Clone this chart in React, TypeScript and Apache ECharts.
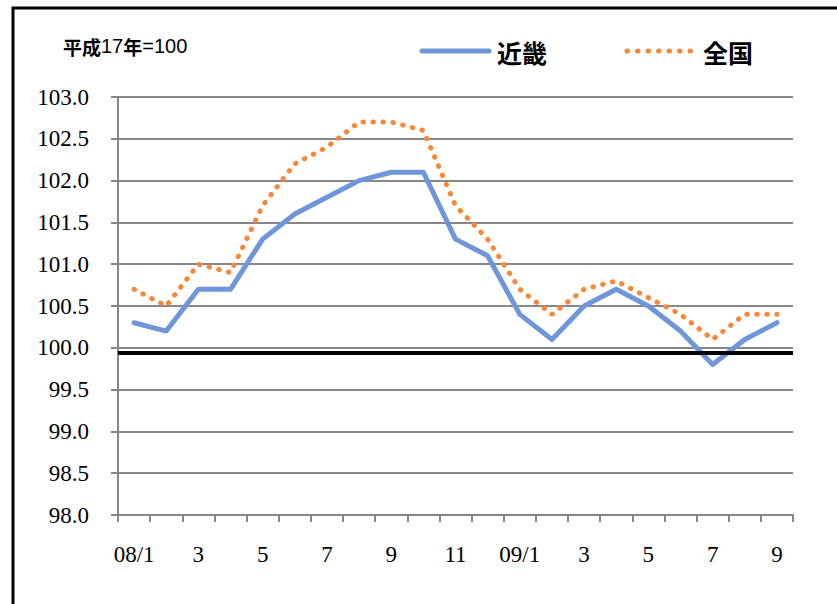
import React, { useEffect, useRef } from "react";
import * as echarts from "echarts";

const categories = ["08/1", "2", "3", "4", "5", "6", "7", "8", "9", "10", "11", "12", "09/1", "2", "3", "4", "5", "6", "7", "8", "9"];
const kinki = [100.3, 100.2, 100.7, 100.7, 101.3, 101.6, 101.8, 102.0, 102.1, 102.1, 101.3, 101.1, 100.4, 100.1, 100.5, 100.7, 100.5, 100.2, 99.8, 100.1, 100.3];
const zenkoku = [100.7, 100.5, 101.0, 100.9, 101.7, 102.2, 102.4, 102.7, 102.7, 102.6, 101.7, 101.3, 100.7, 100.4, 100.7, 100.8, 100.6, 100.4, 100.1, 100.4, 100.4];
const seriesNames = ["近畿", "全国"];
const baseLine = 99.94;

const BLUE = "#7096DA";
const ORANGE = "#F7883A";

export default function App() {
  const ref = useRef<HTMLDivElement>(null);
  useEffect(() => {
    if (!ref.current) return;
    const chart = echarts.init(ref.current, null, { renderer: "svg" });
    const serif = "Liberation Serif";
    const cjk = "Noto Sans CJK JP";
    chart.setOption({
      animation: false,
      backgroundColor: "#ffffff",
      title: {
        left: 63,
        top: 36,
        padding: 0,
        text: "{b|平成}{n|17}{b|年}{n|=100}",
        textStyle: {
          rich: {
            b: { fontFamily: cjk, fontWeight: "bold", fontSize: 19, color: "#000" },
            n: { fontFamily: "Liberation Sans", fontWeight: "normal", fontSize: 20, color: "#000" },
          },
        },
      },
      graphic: [
        {
          type: "rect",
          shape: { x: 13, y: 8, width: 900, height: 700 },
          style: { fill: "none", stroke: "#000", lineWidth: 3 },
          silent: true,
        },
        {
          type: "line",
          shape: { x1: 422, y1: 51, x2: 489, y2: 51 },
          style: { stroke: BLUE, lineWidth: 5, lineCap: "round" },
          silent: true,
        },
        {
          type: "text",
          x: 497,
          y: 52,
          style: { text: seriesNames[0], fontFamily: cjk, fontWeight: "bold", fontSize: 25, fill: "#000", verticalAlign: "middle" },
          silent: true,
        },
        {
          type: "line",
          shape: { x1: 627, y1: 51, x2: 692, y2: 51 },
          style: { stroke: ORANGE, lineWidth: 5, lineCap: "round", lineDash: [0.5, 10] },
          silent: true,
        },
        {
          type: "text",
          x: 703,
          y: 52,
          style: { text: seriesNames[1], fontFamily: cjk, fontWeight: "bold", fontSize: 25, fill: "#000", verticalAlign: "middle" },
          silent: true,
        },
      ],
      grid: { left: 118, right: 44, top: 97, bottom: 89 },
      xAxis: {
        type: "category",
        data: categories,
        boundaryGap: true,
        axisLine: { lineStyle: { color: "#878787", width: 2 } },
        axisTick: { show: true, interval: 0, length: 7, lineStyle: { color: "#878787", width: 2 } },
        axisLabel: { interval: 1, margin: 28, fontFamily: serif, fontSize: 23, color: "#000" },
        splitLine: { show: false },
      },
      yAxis: {
        type: "value",
        min: 98,
        max: 103,
        interval: 0.5,
        axisLine: { show: true, lineStyle: { color: "#878787", width: 2 } },
        axisTick: { show: true, length: 7, lineStyle: { color: "#878787", width: 2 } },
        axisLabel: { margin: 29, fontFamily: serif, fontSize: 23, color: "#000", formatter: (v: number) => v.toFixed(1) },
        splitLine: { show: true, lineStyle: { color: "#878787", width: 2 } },
      },
      series: [
        {
          name: seriesNames[0],
          type: "line",
          data: kinki,
          symbol: "none",
          z: 3,
          lineStyle: { color: BLUE, width: 5, join: "round", cap: "round" },
          itemStyle: { color: BLUE },
          markLine: {
            silent: true,
            symbol: "none",
            label: { show: false },
            lineStyle: { color: "#000", width: 4, type: "solid" },
            data: [{ yAxis: baseLine }],
          },
        },
        {
          name: seriesNames[1],
          type: "line",
          data: zenkoku,
          symbol: "none",
          z: 4,
          lineStyle: { color: ORANGE, width: 5, type: [0.5, 9.5], cap: "round" },
          itemStyle: { color: ORANGE },
        },
      ],
    });
    return () => chart.dispose();
  }, []);
  return <div ref={ref} style={{ position: "absolute", left: 0, top: 0, width: 837, height: 604, background: "#fff" }} />;
}
